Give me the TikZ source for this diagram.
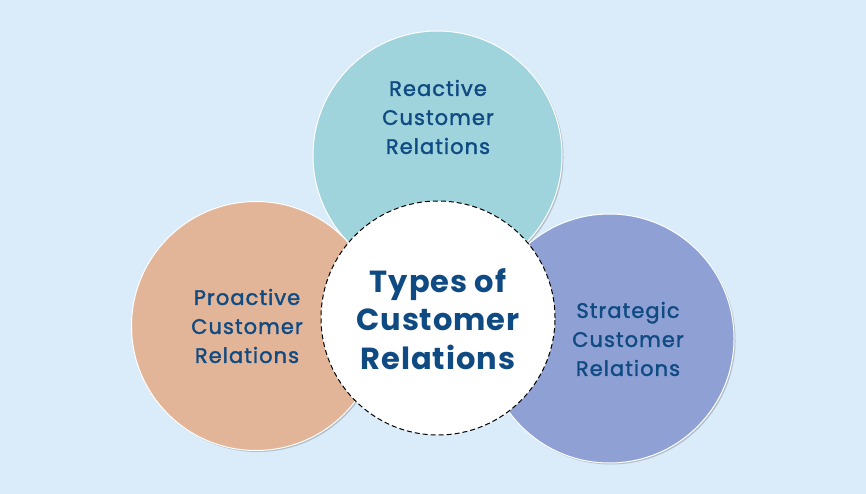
\documentclass[tikz,border=0pt]{standalone}
\usepackage{fontspec}
\setmainfont{Poppins}
\newfontfamily\sidefont{Poppins}[FakeBold=1.6,LetterSpace=5]
\newfontfamily\centfont{Poppins}[LetterSpace=3]
\usetikzlibrary{shadows}
\definecolor{bgc}{HTML}{DAEBF9}
\definecolor{topc}{HTML}{A0D4DC}
\definecolor{leftc}{HTML}{E2B598}
\definecolor{rightc}{HTML}{8FA1D4}
\definecolor{txtc}{HTML}{0F4A82}
\begin{document}
\begin{tikzpicture}[x=1pt,y=-1pt,
  bigcirc/.style={circle,draw=white,line width=1pt,minimum size=249pt,inner sep=0pt,
    drop shadow={shadow xshift=1.5pt,shadow yshift=-1.5pt,opacity=0.18,fill=black}},
  sidetxt/.style={text=txtc,font=\sidefont\fontsize{21}{29}\selectfont,align=center},
  centtxt/.style={text=txtc,font=\centfont\bfseries\fontsize{30.5}{38.5}\selectfont,align=center}]
\fill[bgc] (0,0) rectangle (866,494);
\useasboundingbox (0,0) rectangle (866,494);
\node[bigcirc,fill=topc] (top) at (437.5,155.5) {};
\node[bigcirc,fill=leftc] (left) at (256,326) {};
\node[bigcirc,fill=rightc] (right) at (609.5,338.5) {};
\node[circle,fill=white,draw=black,line width=1pt,dash pattern=on 5pt off 3pt,minimum size=234pt,inner sep=0pt] (center) at (438,318) {};
\node[sidetxt] (toptxt) at (438,117) {Reactive\\Customer\\Relations};
\node[sidetxt] (lefttxt) at (247,326) {Proactive\\Customer\\Relations};
\node[sidetxt] (righttxt) at (628,339) {Strategic\\Customer\\Relations};
\node[centtxt] (centtxt) at (438,319) {Types of\\Customer\\Relations};
\end{tikzpicture}
\end{document}
